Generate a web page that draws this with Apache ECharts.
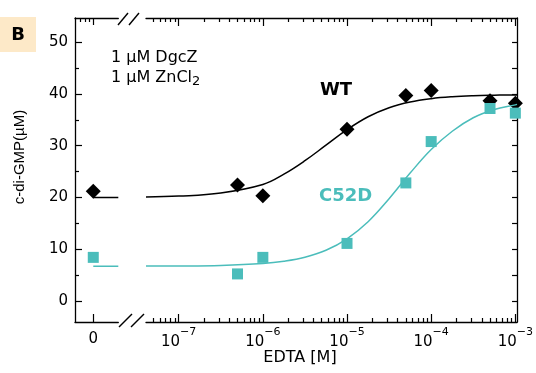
<!DOCTYPE html>
<html>
<head>
<meta charset="utf-8">
<script src="https://cdn.jsdelivr.net/npm/echarts@6/dist/echarts.min.js"></script>
<style>html,body{margin:0;padding:0;background:#fff}#c{width:536px;height:373px}</style>
</head>
<body>
<div id="c"></div>
<script>
// ---- data ----
const concentrations = [5e-7, 1e-6, 1e-5, 5e-5, 1e-4, 5e-4, 1e-3];
const wtAtZero = 21.2;
const wtValues = [22.4, 20.3, 33.2, 39.7, 40.7, 38.7, 38.2];
const c52dAtZero = 8.4;
const c52dValues = [5.2, 8.4, 11.1, 22.8, 30.8, 37.2, 36.3];
const fitConc = [4.09e-8, 1e-7, 3.16e-7, 1e-6, 1.78e-6, 3.16e-6, 5.62e-6, 1e-5, 1.78e-5, 3.16e-5, 5.62e-5, 1e-4, 1.78e-4, 3.16e-4, 5.62e-4, 1e-3, 1.047e-3];
const wtFit = [20.1, 20.25, 20.85, 22.5, 24.5, 27.1, 30.1, 33.1, 35.6, 37.35, 38.45, 39.1, 39.47, 39.67, 39.77, 39.83, 39.83];
const c52dFit = [6.72, 6.74, 6.85, 7.22, 7.66, 8.43, 9.78, 12.0, 15.3, 19.75, 24.7, 29.26, 32.8, 35.4, 37.0, 37.9, 38.0];
const wtBaseline = 20.0;
const c52dBaseline = 6.7;
const yTickLabels = [0, 10, 20, 30, 40, 50];
const yMinorTicks = [5, 15, 25, 35, 45];
const xDecades = [1e-7, 1e-6, 1e-5, 1e-4, 1e-3];
const xMinorTicks = [];
[1e-8, 1e-7, 1e-6, 1e-5, 1e-4].forEach(d => { for (let m = 2; m <= 9; m++) { const v = m * d; if (v > 4.1e-8 && v < 1e-3) xMinorTicks.push(v); } });

// ---- layout / style ----
const Y_MIN = -4.1, Y_MAX = 54.7;
const LOG_MIN = 4.09e-8, LOG_MAX = 1.047e-3;
const ZL_MIN = -1, ZL_MAX = 1.37;
const cyan = '#4bbdbb';
const axisLine = { show: true, onZero: false, lineStyle: { color: '#000', width: 1.3 } };
const noLine = { show: false, onZero: false };
const FONT = 'DejaVu Sans';

function tickAxis(base, values, len, extra) {
  return Object.assign({
    axisTick: { show: true, inside: true, length: len, customValues: values, lineStyle: { color: '#000', width: 1.2 } },
    axisLabel: { show: false },
    splitLine: { show: false }
  }, base, extra || {});
}

const chart = echarts.init(document.getElementById('c'), null, { renderer: 'canvas' });
const opt = {
  animation: false,
  backgroundColor: '#fff',
  grid: [
    { left: 75, right: 536 - 118.3, top: 18, bottom: 373 - 322 },
    { left: 146, right: 15, top: 18, bottom: 373 - 322 }
  ],
  xAxis: [
    Object.assign(tickAxis({ gridIndex: 0, type: 'value', min: ZL_MIN, max: ZL_MAX, position: 'bottom', axisLine: axisLine }, [0], 8), {
      axisLabel: { show: true, customValues: [0], formatter: () => '0', fontFamily: FONT, fontSize: 15, color: '#000', margin: 10 }
    }),
    tickAxis({ gridIndex: 0, type: 'value', min: ZL_MIN, max: ZL_MAX, position: 'top', axisLine: axisLine }, [0], 7),
    tickAxis({ gridIndex: 0, type: 'value', min: ZL_MIN, max: ZL_MAX, position: 'top', axisLine: noLine }, [-0.73, -0.45, -0.23], 4),
    Object.assign(tickAxis({ gridIndex: 1, type: 'log', logBase: 10, min: LOG_MIN, max: LOG_MAX, position: 'bottom', axisLine: axisLine }, xDecades, 8), {
      axisLabel: {
        show: true, customValues: xDecades, margin: 5,
        formatter: v => '{b|10}{s|−' + Math.round(-Math.log10(v)) + '}',
        rich: {
          b: { fontFamily: FONT, fontSize: 15, color: '#000', lineHeight: 23, verticalAlign: 'bottom' },
          s: { fontFamily: FONT, fontSize: 11, color: '#000', lineHeight: 13, verticalAlign: 'top' }
        }
      }
    }),
    tickAxis({ gridIndex: 1, type: 'log', logBase: 10, min: LOG_MIN, max: LOG_MAX, position: 'bottom', axisLine: noLine }, xMinorTicks, 4),
    tickAxis({ gridIndex: 1, type: 'log', logBase: 10, min: LOG_MIN, max: LOG_MAX, position: 'top', axisLine: axisLine }, xDecades, 8),
    tickAxis({ gridIndex: 1, type: 'log', logBase: 10, min: LOG_MIN, max: LOG_MAX, position: 'top', axisLine: noLine }, xMinorTicks, 4)
  ],
  yAxis: [
    Object.assign(tickAxis({ gridIndex: 0, type: 'value', min: Y_MIN, max: Y_MAX, position: 'left', axisLine: axisLine }, yTickLabels, 7), {
      axisLabel: { show: true, customValues: yTickLabels, fontFamily: FONT, fontSize: 15, color: '#000', margin: 7 }
    }),
    tickAxis({ gridIndex: 0, type: 'value', min: Y_MIN, max: Y_MAX, position: 'left', axisLine: noLine }, yMinorTicks, 4),
    tickAxis({ gridIndex: 1, type: 'value', min: Y_MIN, max: Y_MAX, position: 'right', axisLine: axisLine }, yTickLabels.concat(yMinorTicks), 5)
  ],
  series: [
    { type: 'line', xAxisIndex: 0, yAxisIndex: 0, data: [[0, wtBaseline], [ZL_MAX, wtBaseline]], showSymbol: false, lineStyle: { color: '#000', width: 1.5 }, silent: true },
    { type: 'line', xAxisIndex: 0, yAxisIndex: 0, data: [[0, c52dBaseline], [ZL_MAX, c52dBaseline]], showSymbol: false, lineStyle: { color: cyan, width: 1.5 }, silent: true },
    { type: 'scatter', xAxisIndex: 0, yAxisIndex: 0, data: [[0, wtAtZero]], symbol: 'diamond', symbolSize: [15, 15], itemStyle: { color: '#000', opacity: 1 } },
    { type: 'scatter', xAxisIndex: 0, yAxisIndex: 0, data: [[0, c52dAtZero]], symbol: 'rect', symbolSize: [11, 11], itemStyle: { color: cyan, opacity: 1 } },
    { type: 'line', xAxisIndex: 3, yAxisIndex: 2, data: fitConc.map((x, i) => [x, wtFit[i]]), smooth: 0.4, showSymbol: false, lineStyle: { color: '#000', width: 1.5 }, silent: true },
    { type: 'scatter', xAxisIndex: 3, yAxisIndex: 2, data: concentrations.map((x, i) => [x, wtValues[i]]), symbol: 'diamond', symbolSize: [15, 15], itemStyle: { color: '#000', opacity: 1 } },
    { type: 'line', xAxisIndex: 3, yAxisIndex: 2, data: fitConc.map((x, i) => [x, c52dFit[i]]), smooth: 0.4, showSymbol: false, lineStyle: { color: cyan, width: 1.5 }, silent: true },
    { type: 'scatter', xAxisIndex: 3, yAxisIndex: 2, data: concentrations.map((x, i) => [x, c52dValues[i]]), symbol: 'rect', symbolSize: [11, 11], itemStyle: { color: cyan, opacity: 1 } }
  ],
  graphic: [
    { type: 'rect', shape: { x: 0, y: 17, width: 36, height: 35 }, style: { fill: '#fde9c8' } },
    { type: 'text', x: 18, y: 35, style: { text: 'B', fontFamily: FONT, fontWeight: 'bold', fontSize: 18, fill: '#000', align: 'center', verticalAlign: 'middle' } },
    { type: 'line', shape: { x1: 119, y1: 327, x2: 132, y2: 314 }, style: { stroke: '#000', lineWidth: 1.4 } },
    { type: 'line', shape: { x1: 131, y1: 327, x2: 144, y2: 314 }, style: { stroke: '#000', lineWidth: 1.4 } },
    { type: 'line', shape: { x1: 118, y1: 25, x2: 128, y2: 13 }, style: { stroke: '#000', lineWidth: 1.4 } },
    { type: 'line', shape: { x1: 129, y1: 25, x2: 139, y2: 13 }, style: { stroke: '#000', lineWidth: 1.4 } },
    { type: 'text', x: 111, y: 58, style: { text: '1 µM DgcZ', fontFamily: FONT, fontSize: 16, fill: '#000', verticalAlign: 'middle' } },
    { type: 'text', x: 111, y: 78, style: { text: '1 µM ZnCl{sub|2}', fontFamily: FONT, fontSize: 16, fill: '#000', verticalAlign: 'middle',
      rich: { sub: { fontFamily: FONT, fontSize: 13, fill: '#000', padding: [8, 0, 0, 0] } } } },
    { type: 'text', x: 320, y: 90, style: { text: 'WT', fontFamily: FONT, fontWeight: 'bold', fontSize: 18, fill: '#000', verticalAlign: 'middle' } },
    { type: 'text', x: 319, y: 196, style: { text: 'C52D', fontFamily: FONT, fontWeight: 'bold', fontSize: 18, fill: cyan, verticalAlign: 'middle' } },
    { type: 'text', x: 300, y: 358, style: { text: 'EDTA [M]', fontFamily: FONT, fontSize: 16, fill: '#000', align: 'center', verticalAlign: 'middle' } },
    { type: 'text', x: 20, y: 157, rotation: Math.PI / 2, style: { text: 'c-di-GMP(µM)', fontFamily: 'Liberation Sans', fontSize: 15, fill: '#000', align: 'center', verticalAlign: 'middle' } }
  ]
};
chart.setOption(opt);
</script>
</body>
</html>
